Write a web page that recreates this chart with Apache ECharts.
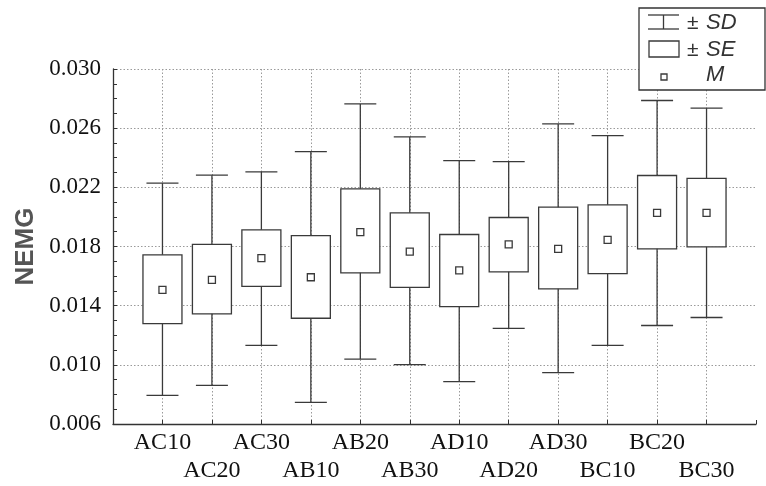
<!DOCTYPE html>
<html><head><meta charset="utf-8">
<script src="https://cdn.jsdelivr.net/npm/echarts@6/dist/echarts.min.js"></script>
<style>html,body{margin:0;padding:0;background:#fff}#c{width:766px;height:486px}</style>
</head><body><div id="c"></div>
<script>
const categories = ['AC10','AC20','AC30','AB10','AB20','AB30','AD10','AD20','AD30','BC10','BC20','BC30'];
const meanVals = [0.01507,0.01575,0.01722,0.01592,0.01897,0.01766,0.01638,0.01814,0.01784,0.01845,0.02028,0.02028];
const seLow   = [0.01278,0.01345,0.01530,0.01315,0.01622,0.01523,0.01393,0.01629,0.01514,0.01616,0.01784,0.01798];
const seHigh  = [0.01744,0.01814,0.01913,0.01873,0.02190,0.02028,0.01881,0.01996,0.02066,0.02082,0.02280,0.02260];
const sdLow   = [0.00793,0.00861,0.01131,0.00746,0.01039,0.01001,0.00886,0.01246,0.00947,0.01131,0.01266,0.01320];
const sdHigh  = [0.02228,0.02282,0.02305,0.02442,0.02764,0.02541,0.02381,0.02374,0.02629,0.02550,0.02787,0.02735];
const yTicks = {min: 0.006, max: 0.030, step: 0.004};

const axisCats = ['_start'].concat(categories, ['_end']);
const data = categories.map((c, i) => [c, sdLow[i], seLow[i], meanVals[i], seHigh[i], sdHigh[i]]);

const LINE = '#3a3a3a';
const SERIF = "'Liberation Serif', 'Times New Roman', serif";
const chart = echarts.init(document.getElementById('c'), null, {renderer: 'canvas'});
chart.setOption({
  animation: false,
  backgroundColor: '#fff',
  grid: {left: 113, right: 10, top: 69, bottom: 62, containLabel: false},
  xAxis: {
    type: 'category', data: axisCats, boundaryGap: false,
    axisLine: {lineStyle: {color: '#333', width: 1.3}},
    axisTick: {inside: true, length: 4, interval: 0, lineStyle: {color: '#333'}},
    axisLabel: {
      interval: 0, margin: 5, hideOverlap: false,
      fontFamily: SERIF, fontSize: 24, color: '#111', lineHeight: 28,
      formatter: (v, i) => (v.charAt(0) === '_' ? '' : (i % 2 === 1 ? v : '\n' + v))
    },
    splitLine: {show: true, interval: (i, v) => v.charAt(0) !== '_', lineStyle: {type: [1.5, 2], color: '#9a9a9a', width: 1}}
  },
  yAxis: {
    type: 'value', min: yTicks.min, max: yTicks.max, interval: yTicks.step,
    name: 'NEMG', nameLocation: 'middle', nameGap: 74,
    nameTextStyle: {fontFamily: 'Liberation Sans', fontWeight: 'bold', fontSize: 26, color: '#555'},
    axisLine: {show: true, lineStyle: {color: '#333', width: 1.3}},
    axisTick: {show: true, inside: true, length: 4, lineStyle: {color: '#333'}},
    minorTick: {show: true, splitNumber: 4, length: 4, lineStyle: {color: '#333'}},
    axisLabel: {margin: 12, fontFamily: SERIF, fontSize: 23, color: '#111', formatter: v => v.toFixed(3)},
    splitLine: {show: true, lineStyle: {type: [1.5, 2], color: '#9a9a9a', width: 1}}
  },
  series: [{
    type: 'custom',
    data: data,
    encode: {x: 0, y: [1, 2, 3, 4, 5]},
    renderItem: function (params, api) {
      const x = api.value(0);
      const pLo = api.coord([x, api.value(1)]);
      const pSeLo = api.coord([x, api.value(2)]);
      const pM = api.coord([x, api.value(3)]);
      const pSeHi = api.coord([x, api.value(4)]);
      const pHi = api.coord([x, api.value(5)]);
      const cx = pM[0];
      const bw = 39, cw = 32, ms = 7;
      const st = {stroke: LINE, lineWidth: 1.3, fill: null};
      return {type: 'group', children: [
        {type: 'line', shape: {x1: cx, y1: pHi[1], x2: cx, y2: pLo[1]}, style: st},
        {type: 'line', shape: {x1: cx - cw/2, y1: pHi[1], x2: cx + cw/2, y2: pHi[1]}, style: st},
        {type: 'line', shape: {x1: cx - cw/2, y1: pLo[1], x2: cx + cw/2, y2: pLo[1]}, style: st},
        {type: 'rect', shape: {x: cx - bw/2, y: pSeHi[1], width: bw, height: pSeLo[1] - pSeHi[1]}, style: {stroke: LINE, lineWidth: 1.3, fill: '#fff'}},
        {type: 'rect', shape: {x: cx - ms/2, y: pM[1] - ms/2, width: ms, height: ms}, style: {stroke: LINE, lineWidth: 1.3, fill: '#fff'}}
      ]};
    }
  }],
  graphic: [
    {type: 'rect', z: 100, silent: true, shape: {x: 639, y: 8, width: 126, height: 82}, style: {fill: '#fff', stroke: '#333', lineWidth: 1.3}},
    {type: 'line', z: 101, silent: true, shape: {x1: 648, y1: 15, x2: 679, y2: 15}, style: {stroke: LINE, lineWidth: 1.3}},
    {type: 'line', z: 101, silent: true, shape: {x1: 663.5, y1: 15, x2: 663.5, y2: 29}, style: {stroke: LINE, lineWidth: 1.3}},
    {type: 'line', z: 101, silent: true, shape: {x1: 648, y1: 29, x2: 679, y2: 29}, style: {stroke: LINE, lineWidth: 1.3}},
    {type: 'rect', z: 101, silent: true, shape: {x: 649, y: 41, width: 30, height: 16}, style: {fill: '#fff', stroke: LINE, lineWidth: 1.3}},
    {type: 'rect', z: 101, silent: true, shape: {x: 661, y: 74, width: 6, height: 6}, style: {fill: '#fff', stroke: LINE, lineWidth: 1.3}},
    {type: 'text', z: 101, silent: true, x: 687, y: 23, style: {text: '±', fontFamily: 'Liberation Sans', fontSize: 21, fill: '#333', verticalAlign: 'middle'}},
    {type: 'text', z: 101, silent: true, x: 706, y: 23, style: {text: 'SD', fontFamily: 'Liberation Sans', fontStyle: 'italic', fontSize: 22, fill: '#333', verticalAlign: 'middle'}},
    {type: 'text', z: 101, silent: true, x: 687, y: 50, style: {text: '±', fontFamily: 'Liberation Sans', fontSize: 21, fill: '#333', verticalAlign: 'middle'}},
    {type: 'text', z: 101, silent: true, x: 706, y: 50, style: {text: 'SE', fontFamily: 'Liberation Sans', fontStyle: 'italic', fontSize: 22, fill: '#333', verticalAlign: 'middle'}},
    {type: 'text', z: 101, silent: true, x: 706, y: 75, style: {text: 'M', fontFamily: 'Liberation Sans', fontStyle: 'italic', fontSize: 22, fill: '#333', verticalAlign: 'middle'}}
  ]
});
</script></body></html>
